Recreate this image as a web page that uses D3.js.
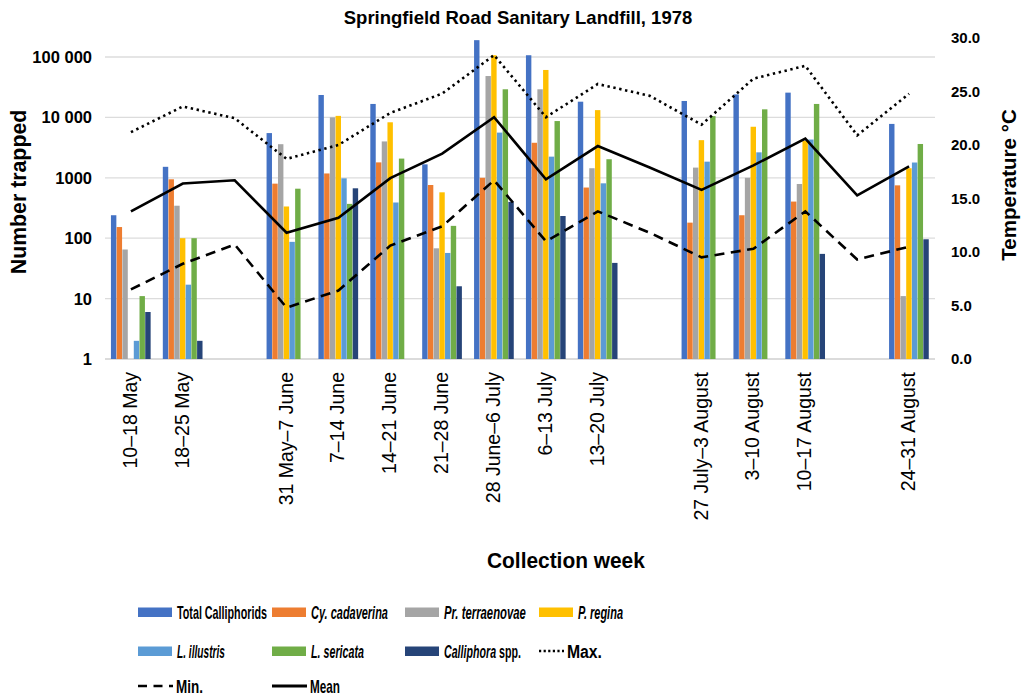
<!DOCTYPE html>
<html><head><meta charset="utf-8">
<script src="https://cdn.jsdelivr.net/npm/d3@7"></script>
<style>
body{margin:0;background:#fff;}
svg{font-family:"Liberation Sans",Arial,Helvetica,sans-serif;}
</style></head>
<body><svg id="c" width="1036" height="696"></svg>
<script>
const weeks = ["10–18 May","18–25 May","","31 May–7 June","7–14 June","14–21 June","21–28 June","28 June–6 July","6–13 July","13–20 July","","27 July–3 August","3–10 August","10–17 August","","24–31 August"];
const totalCalliphorids = [240,1520,null,5500,23500,16700,1670,190000,107000,18200,null,18700,24000,25700,null,7800];
const cyCadaverina      = [153,945,null,800,1180,1800,760,1000,3800,690,null,181,240,404,null,750];
const prTerraenovae     = [65,345,null,3600,10000,4000,68,48400,29200,1440,null,1475,1000,790,null,11];
const pRegina           = [null,100,null,335,10600,8300,575,107000,61000,13200,null,4200,7000,4100,null,1440];
const lIllustris        = [2,17,null,87,980,390,57,5600,2240,810,null,1850,2640,4300,null,1790];
const lSericata         = [11,100,null,660,370,2080,160,29200,8700,2030,null,10500,13600,16700,null,3630];
const callipHoraSpp     = [6,2,null,null,670,null,16,400,233,39,null,null,null,55,null,96];
const tempMax  = [21.2,23.6,22.5,18.7,20.0,23.0,24.8,28.4,22.6,25.7,24.6,21.9,26.2,27.4,20.9,24.8];
const tempMin  = [6.5,8.9,10.7,4.8,6.4,10.6,12.4,16.7,11.0,13.8,11.8,9.5,10.3,13.8,9.3,10.5];
const tempMean = [13.8,16.4,16.7,11.8,13.2,16.9,19.2,22.6,16.8,19.9,17.9,15.8,18.1,20.6,15.3,18.0];
const leftTicks = [1,10,100,1000,10000,100000];
const leftTickLabels = ["1","10","100","1000","10 000","100 000"];
const rightTicks = [0,5,10,15,20,25,30];

const seriesNames = ["Total Calliphorids","Cy. cadaverina","Pr. terraenovae","P. regina","L. illustris","L. sericata","Calliphora spp."];
const seriesData = [totalCalliphorids,cyCadaverina,prTerraenovae,pRegina,lIllustris,lSericata,callipHoraSpp];
const colors = ["#4472C4","#ED7D31","#A5A5A5","#FFC000","#5B9BD5","#70AD47","#264478"];

const svg = d3.select("#c");
const L=105, R=935, T=38, B=359;
const x = d3.scaleBand().domain(d3.range(weeks.length)).range([L,R]).paddingInner(0).paddingOuter(0);
const xs = d3.scaleBand().domain(d3.range(7)).range([0,40]).padding(0);
const y = d3.scaleLog().domain([1,10**((B-T)/60.4)]).range([B,T]);
const yr = d3.scaleLinear().domain([0,30]).range([B,T]);

// condensed text helper: draws text at (x,y) squeezed to a target width
function narrowText(parent, x0, y0, parts, size, target, anchor){
  const g = parent.append("g");
  const t = g.append("text").attr("font-size",size).attr("font-weight","bold");
  parts.forEach(p=>{ const s=t.append("tspan").text(p[0]); if(p[1]) s.attr("font-style","italic"); });
  const w = t.node().getComputedTextLength();
  const k = target/w;
  const dx = anchor==="middle" ? -target/2 : 0;
  g.attr("transform",`translate(${x0+dx},${y0}) scale(${k},1)`);
  return g;
}

// gridlines
svg.append("g").selectAll("line").data(leftTicks).join("line")
  .attr("x1",L).attr("x2",R).attr("y1",d=>y(d)).attr("y2",d=>y(d))
  .attr("stroke",d=>d===1?"#cfcfcf":"#dcdcdc").attr("stroke-width",1.3);

// bars
const g = svg.append("g");
weeks.forEach((w,i)=>{
  const gx = x(i)+x.bandwidth()/2-20;
  seriesData.forEach((arr,s)=>{
    const v = arr[i];
    if(v==null) return;
    g.append("rect").attr("x",gx+xs(s)).attr("width",xs.bandwidth()-0.3)
      .attr("y",y(v)).attr("height",B-y(v)).attr("fill",colors[s]);
  });
});

// lines
const line = d3.line().x((d,i)=>x(i)+x.bandwidth()/2).y(d=>yr(d));
svg.append("path").attr("d",line(tempMax)).attr("fill","none").attr("stroke","#000").attr("stroke-width",2.6).attr("stroke-dasharray","2.4,3.6");
svg.append("path").attr("d",line(tempMin)).attr("fill","none").attr("stroke","#000").attr("stroke-width",2.6).attr("stroke-dasharray","10,6.5");
svg.append("path").attr("d",line(tempMean)).attr("fill","none").attr("stroke","#000").attr("stroke-width",2.6);

// left axis labels
svg.append("g").selectAll("text").data(leftTicks).join("text")
  .attr("x",92).attr("y",d=>y(d)+6).attr("text-anchor","end")
  .attr("font-size",16.5).attr("font-weight","bold").text((d,i)=>leftTickLabels[i]);
// right axis labels
svg.append("g").selectAll("text").data(rightTicks).join("text")
  .attr("x",951).attr("y",d=>yr(d)+5).attr("text-anchor","start")
  .attr("font-size",15).attr("font-weight","bold").text(d=>d.toFixed(1));

// x labels
svg.append("g").selectAll("text").data(weeks).join("text")
  .attr("transform",(d,i)=>`translate(${x(i)+x.bandwidth()/2+6},372) rotate(-90)`)
  .attr("text-anchor","end").attr("font-size",19.5).text(d=>d);

// titles
svg.append("text").attr("x",518).attr("y",24).attr("text-anchor","middle").attr("font-size",18.5).attr("font-weight","bold").text("Springfield Road Sanitary Landfill, 1978");
svg.append("text").attr("transform","translate(26,192) rotate(-90)").attr("text-anchor","middle").attr("font-size",21.3).attr("font-weight","bold").text("Number trapped");
svg.append("text").attr("transform","translate(1016,185) rotate(-90)").attr("text-anchor","middle").attr("font-size",20.5).attr("font-weight","bold").text("Temperature °C");
narrowText(svg, 566, 568, [["Collection week",false]], 22, 158, "middle");

// legend
const leg = svg.append("g");
const legBars = [
  {c:0,x:138,y:612,w:90,parts:[["Total Calliphorids",false]]},
  {c:1,x:272,y:612,w:77,parts:[["Cy. cadaverina",true]]},
  {c:2,x:405,y:612,w:82,parts:[["Pr. terraenovae",true]]},
  {c:3,x:539,y:612,w:45,parts:[["P. regina",true]]},
  {c:4,x:138,y:651,w:48,parts:[["L. illustris",true]]},
  {c:5,x:272,y:651,w:53,parts:[["L. sericata",true]]},
  {c:6,x:405,y:651,w:77,parts:[["Calliphora",true],[" spp.",false]]}
];
legBars.forEach(it=>{
  leg.append("rect").attr("x",it.x).attr("y",it.y-4.5).attr("width",34).attr("height",9.5).attr("fill",colors[it.c]);
  narrowText(leg, it.x+39, it.y+6.5, it.parts, 17.5, it.w, "start");
});
const legLines = [
  {d:"2.2,2.4",label:"Max.",x:539,y:651,len:25,w:35},
  {d:"9,6.5",label:"Min.",x:138,y:686,len:35,w:27},
  {d:null,label:"Mean",x:272,y:686,len:35,w:30}
];
legLines.forEach(it=>{
  const ln = leg.append("line").attr("x1",it.x).attr("x2",it.x+it.len).attr("y1",it.y).attr("y2",it.y).attr("stroke","#000").attr("stroke-width",it.d?2.6:2.8);
  if(it.d) ln.attr("stroke-dasharray",it.d);
  narrowText(leg, it.x+it.len+3, it.y+6.5, [[it.label,false]], 17.5, it.w, "start");
});
</script></body></html>
